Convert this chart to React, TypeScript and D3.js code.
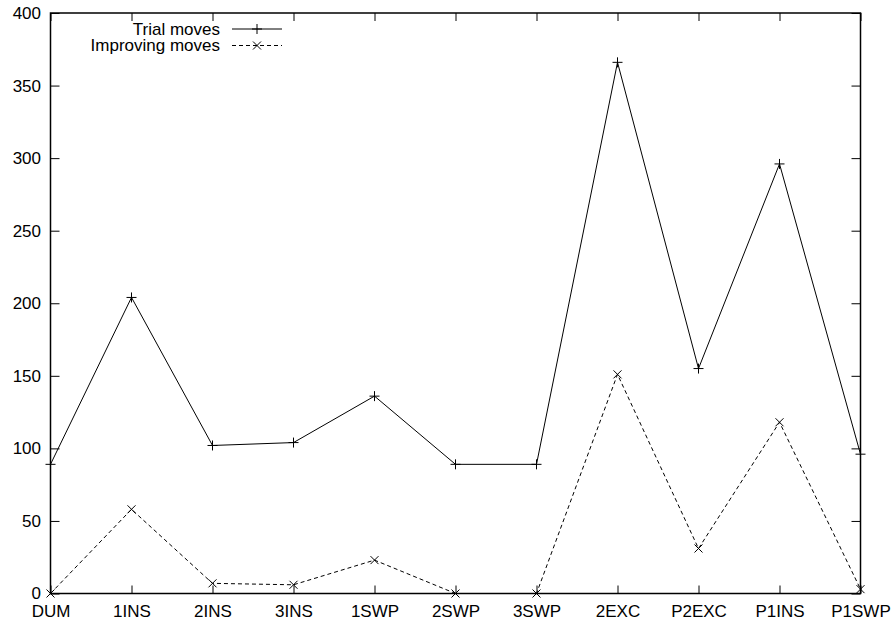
import React, { useEffect, useRef } from 'react';
import * as d3 from 'd3';

const categories = ['DUM', '1INS', '2INS', '3INS', '1SWP', '2SWP', '3SWP', '2EXC', 'P2EXC', 'P1INS', 'P1SWP'];
const trialMoves = [89, 204, 102, 104, 136, 89, 89, 366, 155, 296, 96];
const improvingMoves = [0, 58, 7, 6, 23, 0, 0, 151, 31, 118, 3];
const yTicks = [0, 50, 100, 150, 200, 250, 300, 350, 400];
const seriesNames = ['Trial moves', 'Improving moves'];

const App = () => {
  const svgRef = useRef<SVGSVGElement>(null);

  useEffect(() => {
    const width = 891;
    const height = 623;
    const margin = { top: 13, right: 30.5, bottom: 29.5, left: 50.5 };
    const font = '"Liberation Sans", Arial, sans-serif';
    const fontSize = 17;

    d3.select(svgRef.current).selectAll('*').remove();

    const svg = d3.select(svgRef.current)
      .attr('width', width)
      .attr('height', height)
      .style('font-family', font);

    svg.append('rect').attr('width', width).attr('height', height).attr('fill', '#fff');

    const x = d3.scalePoint<string>()
      .domain(categories)
      .range([margin.left, width - margin.right]);

    const y = d3.scaleLinear()
      .domain([0, 400])
      .range([height - margin.bottom, margin.top]);

    const styleAxis = (g: any, labels: boolean) => {
      g.select('.domain').remove();
      g.selectAll('.tick line').attr('stroke', '#000').attr('stroke-width', 1);
      g.selectAll('text')
        .attr('fill', '#000')
        .style('font-size', `${fontSize}px`)
        .style('font-family', font);
      if (!labels) g.selectAll('text').remove();
    };

    // ticks point inward on all four sides
    svg.append('g')
      .attr('transform', `translate(0,${y(0)})`)
      .call(d3.axisBottom(x).tickSizeInner(-8).tickSizeOuter(0).tickPadding(11))
      .call((g: any) => styleAxis(g, true));

    svg.append('g')
      .attr('transform', `translate(0,${y(400)})`)
      .call(d3.axisTop(x).tickSizeInner(-8).tickSizeOuter(0))
      .call((g: any) => styleAxis(g, false));

    svg.append('g')
      .attr('transform', `translate(${margin.left},0)`)
      .call(d3.axisLeft(y).tickValues(yTicks).tickSizeInner(-9).tickSizeOuter(0).tickPadding(9.5))
      .call((g: any) => styleAxis(g, true));

    svg.append('g')
      .attr('transform', `translate(${width - margin.right},0)`)
      .call(d3.axisRight(y).tickValues(yTicks).tickSizeInner(-9).tickSizeOuter(0))
      .call((g: any) => styleAxis(g, false));

    // frame
    svg.append('rect')
      .attr('x', margin.left)
      .attr('y', y(400))
      .attr('width', width - margin.right - margin.left)
      .attr('height', y(0) - y(400))
      .attr('fill', 'none')
      .attr('stroke', '#000')
      .attr('stroke-width', 1.5);

    const line = d3.line<number>()
      .x((d, i) => x(categories[i]) as number)
      .y(d => y(d));

    const plus = (g: any, cx: number, cy: number) => {
      g.append('path')
        .attr('d', `M${cx - 5},${cy}H${cx + 5}M${cx},${cy - 5}V${cy + 5}`)
        .attr('stroke', '#000').attr('stroke-width', 1);
    };
    const cross = (g: any, cx: number, cy: number) => {
      g.append('path')
        .attr('d', `M${cx - 4},${cy - 4}L${cx + 4},${cy + 4}M${cx - 4},${cy + 4}L${cx + 4},${cy - 4}`)
        .attr('stroke', '#000').attr('stroke-width', 1);
    };

    const series = [
      { name: seriesNames[0], values: trialMoves, dash: null, marker: plus },
      { name: seriesNames[1], values: improvingMoves, dash: '4,3', marker: cross },
    ];

    series.forEach((s, si) => {
      const g = svg.append('g');
      g.append('path')
        .datum(s.values)
        .attr('d', line)
        .attr('fill', 'none')
        .attr('stroke', '#000')
        .attr('stroke-width', 1)
        .attr('stroke-dasharray', s.dash);
      s.values.forEach((v, i) => s.marker(g, x(categories[i]) as number, y(v)));

      // legend entry
      const ly = 29 + si * 16.5;
      g.append('text')
        .attr('x', 220)
        .attr('y', ly + 5.5)
        .attr('text-anchor', 'end')
        .style('font-size', `${fontSize}px`)
        .text(s.name);
      g.append('line')
        .attr('x1', 232).attr('x2', 282)
        .attr('y1', ly).attr('y2', ly)
        .attr('stroke', '#000')
        .attr('stroke-width', 1)
        .attr('stroke-dasharray', s.dash);
      s.marker(g, 257, ly);
    });
  }, []);

  return (
    <svg ref={svgRef} style={{ position: 'absolute', left: 0, top: 0 }} />
  );
};

export default App;
